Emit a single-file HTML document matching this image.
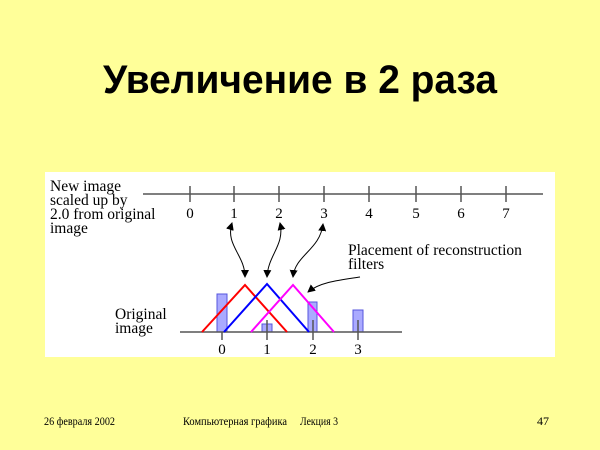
<!DOCTYPE html>
<html><head><meta charset="utf-8"><style>
html,body{margin:0;padding:0;background:#FFFF99;}
svg{display:block;}
</style></head><body>
<svg width="600" height="450" viewBox="0 0 600 450" xmlns="http://www.w3.org/2000/svg">
<rect width="600" height="450" fill="#FFFF99"/>
<text x="103" y="93" font-family="Liberation Sans, DejaVu Sans, sans-serif" font-weight="bold" font-size="40" textLength="394" lengthAdjust="spacingAndGlyphs" fill="#000">Увеличение в 2 раза</text>
<rect x="45" y="172" width="510" height="185" fill="#fff"/>
<g font-family="Liberation Serif, serif" font-size="15.5" fill="#000">
<text x="50" y="191">New image</text>
<text x="50" y="205">scaled up by</text>
<text x="50" y="219">2.0 from original</text>
<text x="50" y="233">image</text>
<text x="115" y="319">Original</text>
<text x="115" y="333">image</text>
<text x="348" y="255">Placement of reconstruction</text>
<text x="348" y="269">filters</text>
</g>
<g stroke="#555" stroke-width="1.5">
<line x1="143" y1="194" x2="543" y2="194"/>
<line x1="190" y1="186" x2="190" y2="202"/>
<line x1="234" y1="186" x2="234" y2="202"/>
<line x1="279" y1="186" x2="279" y2="202"/>
<line x1="324" y1="186" x2="324" y2="202"/>
<line x1="369" y1="186" x2="369" y2="202"/>
<line x1="416" y1="186" x2="416" y2="202"/>
<line x1="461" y1="186" x2="461" y2="202"/>
<line x1="506" y1="186" x2="506" y2="202"/>
</g>
<g font-family="Liberation Serif, serif" font-size="15" fill="#000" text-anchor="middle">
<text x="190" y="218">0</text><text x="234" y="218">1</text><text x="279" y="218">2</text><text x="324" y="218">3</text>
<text x="369" y="218">4</text><text x="416" y="218">5</text><text x="461" y="218">6</text><text x="506" y="218">7</text>
<text x="222" y="354">0</text><text x="267" y="354">1</text><text x="313" y="354">2</text><text x="358" y="354">3</text>
</g>
<g fill="#aaaaff" stroke="#5555dd" stroke-width="1">
<rect x="217" y="294" width="10" height="38"/>
<rect x="262" y="324" width="10" height="8"/>
<rect x="308" y="302" width="9" height="30"/>
<rect x="353" y="310" width="10" height="22"/>
</g>
<g stroke="#555" stroke-width="1.5">
<line x1="180" y1="332" x2="402" y2="332"/>
<line x1="222" y1="332" x2="222" y2="340"/>
<line x1="267" y1="320" x2="267" y2="340"/>
<line x1="313" y1="320" x2="313" y2="340"/>
<line x1="358" y1="320" x2="358" y2="340"/>
</g>
<g fill="none" stroke-width="2">
<polyline points="202,332 245,285 287,332" stroke="#ff0000"/>
<polyline points="224,332 267,284 309,332" stroke="#0000ff"/>
<polyline points="251,332 293,285 334,332" stroke="#ff00ff"/>
</g>
<defs><marker id="a" markerWidth="8" markerHeight="8" refX="7" refY="4" orient="auto-start-reverse" markerUnits="userSpaceOnUse"><path d="M0,0 L8,4 L0,8 Z" fill="#000"/></marker></defs>
<g fill="none" stroke="#000" stroke-width="1" marker-start="url(#a)" marker-end="url(#a)">
<path d="M232,223 C225,245 245,255 245,277"/>
<path d="M280,223 C285,245 268,255 267,277"/>
<path d="M323,224 C320,250 295,255 293,277"/>
</g>
<path d="M360,277 C340,280 320,282 308,292" fill="none" stroke="#000" stroke-width="1" marker-end="url(#a)"/>
<g font-family="Liberation Serif, serif" font-size="12" fill="#000">
<text x="44" y="425" textLength="71" lengthAdjust="spacingAndGlyphs">26 февраля 2002</text>
<text x="183" y="425" textLength="104" lengthAdjust="spacingAndGlyphs">Компьютерная графика</text>
<text x="300" y="425" textLength="38" lengthAdjust="spacingAndGlyphs">Лекция 3</text>
<text x="537" y="425">47</text>
</g>
</svg>
</body></html>
